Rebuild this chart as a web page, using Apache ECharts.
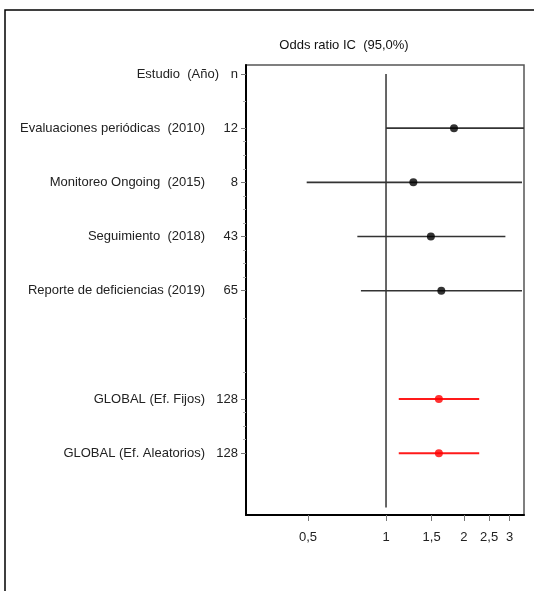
<!DOCTYPE html>
<html>
<head>
<meta charset="utf-8">
<script src="https://cdn.jsdelivr.net/npm/echarts@6/dist/echarts.min.js"></script>
<style>html,body{margin:0;padding:0;background:#fff}#c{width:534px;height:591px}</style>
</head>
<body>
<div id="c"></div>
<script>
// ---- data ----
var rowLabels = ['Estudio  (Año)', 'Evaluaciones periódicas  (2010)', 'Monitoreo Ongoing  (2015)', 'Seguimiento  (2018)', 'Reporte de deficiencias (2019)', '', 'GLOBAL (Ef. Fijos)', 'GLOBAL (Ef. Aleatorios)'];
var nValues = ['n', '12', '8', '43', '65', '', '128', '128'];
var oddsRatio = [null, 1.83, 1.275, 1.49, 1.635, null, 1.60, 1.60];
var ciLower = [null, 1.0, 0.494, 0.775, 0.80, null, 1.12, 1.12];
var ciUpper = [null, 3.9, 3.35, 2.89, 3.35, null, 2.29, 2.29];
var isPooled = [false, false, false, false, false, false, true, true];
var xTicks = [0.5, 1, 1.5, 2, 2.5, 3];
var labelRows = [0, 1, 2, 3, 4, 6, 7];
var minorRows = [0.5, 1.25, 1.5, 1.75, 2.25, 2.5, 2.75, 3.25, 3.5, 3.75, 4.5, 5.5, 6.25, 6.5, 6.75];
var titleText = 'Odds ratio IC  (95,0%)';

var FONT = 'Liberation Sans';
var studyData = [], pooledData = [], ciStudy = [], ciPooled = [];
for (var i = 0; i < rowLabels.length; i++) {
  if (oddsRatio[i] == null) continue;
  if (isPooled[i]) { pooledData.push([oddsRatio[i], i]); ciPooled.push([ciLower[i], ciUpper[i], i]); }
  else { studyData.push([oddsRatio[i], i]); ciStudy.push([ciLower[i], ciUpper[i], i]); }
}
function ciRender(color, width) {
  return function (params, api) {
    var p1 = api.coord([api.value(0), api.value(2)]);
    var p2 = api.coord([api.value(1), api.value(2)]);
    return {
      type: 'line',
      shape: { x1: p1[0], y1: p1[1], x2: p2[0], y2: p2[1] },
      style: { stroke: color, lineWidth: width }
    };
  };
}
var chart = echarts.init(document.getElementById('c'), null, { renderer: 'canvas' });
chart.setOption({
  animation: false,
  textStyle: { fontFamily: FONT },
  graphic: [
    { type: 'rect', x: 5, y: 10, shape: { width: 700, height: 700 }, style: { fill: 'none', stroke: '#000', lineWidth: 1.5 }, silent: true },
    { type: 'text', x: 344, y: 45, style: { text: titleText, fill: '#111', font: '13px ' + FONT, textAlign: 'center', textVerticalAlign: 'middle' } }
  ],
  grid: { left: 246, right: 10, top: 65, bottom: 76, show: true, borderColor: '#555', borderWidth: 1.5, backgroundColor: '#fff' },
  xAxis: {
    type: 'log', min: 0.288, max: 3.41, position: 'bottom',
    axisLine: { show: true, onZero: false, lineStyle: { color: '#000', width: 2 } },
    axisTick: { show: true, length: 6, customValues: xTicks, lineStyle: { color: '#777' } },
    axisLabel: { customValues: xTicks, margin: 16, color: '#222', fontSize: 13, fontFamily: FONT,
      formatter: function (v) { return String(+v.toFixed(2)).replace('.', ','); } },
    splitLine: { show: false }, minorTick: { show: false }
  },
  yAxis: [{
    type: 'value', inverse: true, min: -0.166, max: 8.14,
    axisLine: { show: true, onZero: false, lineStyle: { color: '#000', width: 2 } },
    axisTick: { show: true, length: 5, customValues: labelRows, lineStyle: { color: '#777' } },
    axisLabel: { customValues: labelRows, margin: 8, color: '#222', fontSize: 13, fontFamily: FONT,
      formatter: function (v) {
        var k = Math.round(v);
        if (k === 0) return '{h|' + rowLabels[k] + '}{hn|' + nValues[k] + '}';
        return '{a|' + rowLabels[k] + '}{b|' + nValues[k] + '}';
      },
      rich: {
        h: { fontSize: 13, color: '#222', fontFamily: FONT },
        hn: { fontSize: 13, color: '#222', fontFamily: FONT, width: 19, align: 'right' },
        a: { fontSize: 13, color: '#222', fontFamily: FONT },
        b: { fontSize: 13, color: '#222', fontFamily: FONT, width: 33, align: 'right' }
      }
    },
    splitLine: { show: false }
  }, {
    type: 'value', inverse: true, min: -0.166, max: 8.14, position: 'left',
    axisLine: { show: false, onZero: false },
    axisTick: { show: true, length: 3, customValues: minorRows, lineStyle: { color: '#aaa' } },
    axisLabel: { show: false }, splitLine: { show: false }
  }],
  series: [
    { type: 'line', data: [[1, 0], [1, 8]], symbol: 'none', lineStyle: { color: '#000', width: 1.2 }, silent: true, z: 1 },
    { type: 'custom', data: ciStudy, renderItem: ciRender('#333', 1.6), clip: true, silent: true, z: 2 },
    { type: 'custom', data: ciPooled, renderItem: ciRender('#ff1a1a', 2), clip: true, silent: true, z: 2 },
    { type: 'scatter', data: studyData, symbol: 'circle', symbolSize: 8, itemStyle: { color: '#000' }, z: 3 },
    { type: 'scatter', data: pooledData, symbol: 'circle', symbolSize: 8, itemStyle: { color: '#ff0000' }, z: 3 }
  ]
});
</script>
</body>
</html>
